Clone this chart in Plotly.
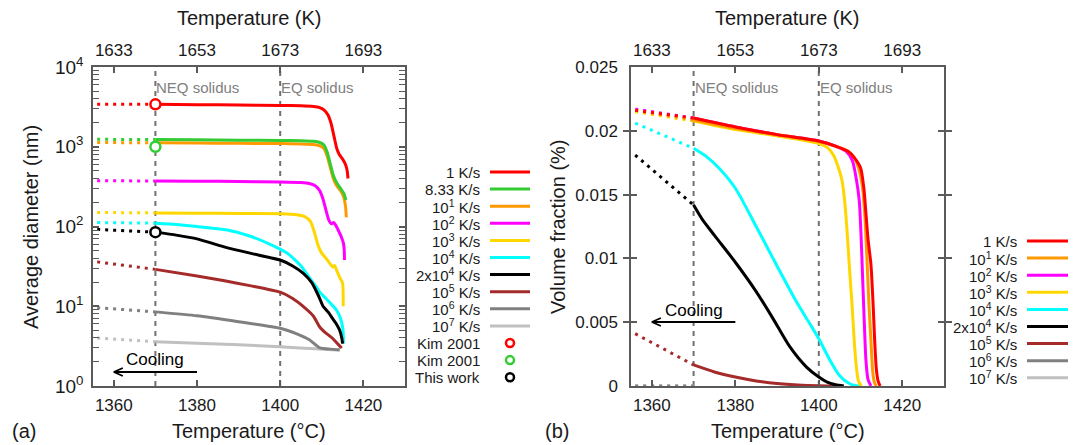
import plotly.graph_objects as go

W, H = 1075, 445
FONT = "Liberation Sans, Arial, sans-serif"
K_OFFSET = 273
X_RANGE = [1355, 1430]
C_TICKS = [1360, 1380, 1400, 1420]
NEQ_SOLIDUS = 1370
EQ_SOLIDUS = 1400
DOT_START = 1356

# ---------------- Panel (a): average diameter (nm) ----------------
a_red_T = [1370, 1380, 1390, 1400, 1405, 1408, 1409.5, 1410.5, 1411.5, 1412.3, 1413, 1413.6, 1414.2, 1415, 1415.7, 1416.1, 1416.3]
a_red_D = [3400, 3370, 3340, 3300, 3270, 3200, 3100, 2900, 2500, 1900, 1300, 950, 800, 700, 600, 500, 400]
a_grn_T = [1370, 1380, 1390, 1400, 1405, 1408, 1409.5, 1410.5, 1411.3, 1412, 1412.7, 1413.5, 1414.5, 1415.3, 1415.8]
a_grn_D = [1230, 1220, 1210, 1200, 1190, 1170, 1130, 1050, 850, 620, 450, 360, 300, 260, 215]
a_org_T = [1370, 1380, 1390, 1400, 1405, 1408, 1409.5, 1410.5, 1411.3, 1412, 1412.7, 1413.5, 1414.5, 1415.3, 1415.7, 1415.9]
a_org_D = [1120, 1115, 1105, 1095, 1085, 1065, 1025, 950, 760, 560, 410, 330, 280, 230, 180, 130]
a_mag_T = [1370, 1380, 1390, 1400, 1405, 1407, 1408.5, 1409.5, 1410.3, 1411, 1411.7, 1412.3, 1412.8, 1413.3, 1413.9, 1414.7, 1415.2, 1415.4, 1415.45]
a_mag_D = [372, 370, 367, 362, 356, 346, 322, 280, 220, 160, 120, 108, 112, 105, 91, 74, 62, 50, 38]
a_yel_T = [1370, 1380, 1390, 1400, 1404, 1406, 1407.3, 1408.2, 1409.1, 1410, 1411, 1412, 1412.7, 1413.1, 1413.6, 1414.3, 1415, 1415.15]
a_yel_D = [148, 147, 146, 144, 140, 132, 115, 85, 58, 46, 40, 34, 31, 32.5, 28, 23, 19.5, 10]
a_cyn_T = [1370, 1375, 1380, 1387, 1393, 1399, 1402, 1405, 1407, 1408.5, 1409.5, 1411, 1412, 1413.5, 1414.5, 1415.1, 1415.2]
a_cyn_D = [110, 106, 100, 91, 75, 55, 45, 32, 23, 18, 15, 12.5, 11, 9, 7, 5, 3.4]
a_blk_T = [1370, 1375, 1380, 1386.3, 1393, 1400, 1403, 1405.5, 1407.5, 1408.8, 1409.5, 1410.3, 1411.5, 1412.6, 1413.5, 1414.3, 1414.8, 1415]
a_blk_D = [85, 78, 70, 56, 46, 38, 32, 26, 20, 15, 12.5, 10, 8.5, 7, 6, 5, 4, 3.4]
a_brn_T = [1370, 1380, 1386.3, 1393, 1400, 1403, 1406, 1408, 1409.5, 1411, 1412.5, 1414, 1414.8]
a_brn_D = [29, 24, 21, 18, 15, 12.5, 9.5, 7.5, 5.5, 4.6, 4, 3.3, 3.0]
a_gry_T = [1370, 1380, 1390, 1400, 1404, 1407, 1409.5, 1412, 1414.3]
a_gry_D = [8.5, 7.6, 6.4, 5.3, 4.5, 3.8, 3.0, 2.9, 2.85]
a_lgy_T = [1370, 1390, 1400, 1409.5, 1414.3]
a_lgy_D = [3.6, 3.3, 3.1, 2.9, 2.8]
# extrapolated (dotted) start values at DOT_START
a_dot_start = [3400, 1240, 1130, 375, 150, 112, 92, 36, 9.6, 4.0]

a_names = ["1 K/s", "8.33 K/s", "10<sup>1</sup> K/s", "10<sup>2</sup> K/s", "10<sup>3</sup> K/s",
           "10<sup>4</sup> K/s", "2x10<sup>4</sup> K/s", "10<sup>5</sup> K/s", "10<sup>6</sup> K/s", "10<sup>7</sup> K/s"]
a_colors = ["#ff0000", "#33cc33", "#ff9900", "#ff00ff", "#ffd700", "#00ffff", "#000000", "#a52a2a", "#808080", "#c0c0c0"]

# experimental / reference points
pt_names = ["Kim 2001", "Kim 2001", "This work"]
pt_T = [1370, 1370, 1370]
pt_D = [3400, 1000, 85]
pt_colors = ["#ff0000", "#33cc33", "#000000"]

Y_TICKS_A = [1, 10, 100, 1000, 10000]
Y_TICKTEXT_A = ["10<sup>0</sup>", "10<sup>1</sup>", "10<sup>2</sup>", "10<sup>3</sup>", "10<sup>4</sup>"]

# ---------------- Panel (b): volume fraction (%) ----------------
b_red_T = [1370, 1380, 1390, 1400, 1404, 1407, 1408.5, 1410, 1410.8, 1411.3, 1411.8, 1412.5, 1413, 1413.4, 1413.8, 1414.2, 1414.7]
b_red_V = [0.0210, 0.0203, 0.0197, 0.0192, 0.0188, 0.0184, 0.0179, 0.0171, 0.0155, 0.0135, 0.0115, 0.0095, 0.0065, 0.0035, 0.0013, 0.0004, 0.0]
b_org_T = [1370, 1380, 1390, 1400, 1404, 1407, 1408.5, 1409.6, 1410.5, 1411.1, 1411.6, 1412, 1412.5, 1412.9, 1413.3, 1413.8]
b_org_V = [0.02085, 0.0202, 0.0197, 0.01915, 0.0188, 0.0184, 0.0179, 0.0170, 0.0155, 0.0130, 0.0095, 0.0065, 0.0035, 0.0012, 0.0003, 0.0]
b_mag_T = [1370, 1380, 1390, 1400, 1404, 1406.5, 1408, 1409, 1409.7, 1410.1, 1410.5, 1410.9, 1411.3, 1411.8, 1412.5]
b_mag_V = [0.0210, 0.0203, 0.0197, 0.0192, 0.0188, 0.0184, 0.0177, 0.0162, 0.0145, 0.0120, 0.0085, 0.0050, 0.0020, 0.0005, 0.0]
b_yel_T = [1370, 1380, 1390, 1400, 1402, 1403.5, 1404.5, 1405.5, 1406.2, 1406.8, 1407.4, 1408, 1408.5, 1409, 1409.5, 1410.2]
b_yel_V = [0.02077, 0.0201, 0.0196, 0.0190, 0.0187, 0.0181, 0.0173, 0.0162, 0.0145, 0.0120, 0.0090, 0.0062, 0.0035, 0.0015, 0.0004, 0.0]
b_cyn_T = [1370, 1373, 1376, 1380, 1385, 1390, 1395, 1398, 1400, 1402.7, 1405, 1407, 1408.5, 1410]
b_cyn_V = [0.01863, 0.0180, 0.0171, 0.0155, 0.0125, 0.0094, 0.0064, 0.0048, 0.0037, 0.0020, 0.0008, 0.00025, 0.00005, 0.0]
b_blk_T = [1370, 1372, 1375, 1380, 1385, 1389, 1393, 1397, 1400, 1402, 1404, 1406]
b_blk_V = [0.01418, 0.0131, 0.0118, 0.0097, 0.0074, 0.0053, 0.0031, 0.0015, 0.0007, 0.0003, 0.0001, 0.0]
b_brn_T = [1370, 1375, 1380, 1385, 1390, 1395, 1400, 1405]
b_brn_V = [0.00165, 0.0011, 0.0007, 0.0004, 0.0002, 0.00008, 0.00002, 0.0]
b_gry_T = [1370]
b_gry_V = [0.0]
b_lgy_T = [1370]
b_lgy_V = [0.0]
b_dot_start = [0.0216, 0.0216, 0.0217, 0.0215, 0.0206, 0.0181, 0.0041, 0.0, 0.0]

b_names = ["1 K/s", "10<sup>1</sup> K/s", "10<sup>2</sup> K/s", "10<sup>3</sup> K/s", "10<sup>4</sup> K/s",
           "2x10<sup>4</sup> K/s", "10<sup>5</sup> K/s", "10<sup>6</sup> K/s", "10<sup>7</sup> K/s"]
b_colors = ["#ff0000", "#ff9900", "#ff00ff", "#ffd700", "#00ffff", "#000000", "#a52a2a", "#808080", "#c0c0c0"]
Y_TICKS_B = [0, 0.005, 0.01, 0.015, 0.02, 0.025]
Y_TICKTEXT_B = ["0", "0.005", "0.01", "0.015", "0.02", "0.025"]

# ---------------- geometry helpers (pixels -> paper) ----------------
def px(x):
    return x / W


def py(y):
    return 1 - y / H


A_DOM = [px(93), px(405)]
B_DOM = [px(631), px(944)]
Y_DOM = [py(386), py(67)]

AXCOL = "#5a5a5a"
LW = 3
DOT = "3px,5px"

fig = go.Figure()

a_series = [(a_red_T, a_red_D), (a_grn_T, a_grn_D), (a_org_T, a_org_D), (a_mag_T, a_mag_D), (a_yel_T, a_yel_D),
            (a_cyn_T, a_cyn_D), (a_blk_T, a_blk_D), (a_brn_T, a_brn_D), (a_gry_T, a_gry_D), (a_lgy_T, a_lgy_D)]
b_series = [(b_red_T, b_red_V), (b_org_T, b_org_V), (b_mag_T, b_mag_V), (b_yel_T, b_yel_V), (b_cyn_T, b_cyn_V),
            (b_blk_T, b_blk_V), (b_brn_T, b_brn_V), (b_gry_T, b_gry_V), (b_lgy_T, b_lgy_V)]


def add_panel(series, dots, names, colors, xa, ya, order, smooth):
    for i in order:
        (T, V), d0, nm, col = series[i], dots[i], names[i], colors[i]
        fig.add_trace(go.Scatter(x=[DOT_START, T[0]], y=[d0, V[0]], mode="lines",
                                 line=dict(color=col, width=LW, dash=DOT), xaxis=xa, yaxis=ya,
                                 showlegend=False, hoverinfo="skip", cliponaxis=False))
        fig.add_trace(go.Scatter(x=T, y=V, mode="lines", name=nm,
                                 line=dict(color=col, width=LW, shape="spline", smoothing=smooth),
                                 xaxis=xa, yaxis=ya, showlegend=False))


add_panel(a_series, a_dot_start, a_names, a_colors, "x", "y", [9, 8, 7, 5, 6, 4, 3, 2, 1, 0], 0.5)
add_panel(b_series, b_dot_start, b_names, b_colors, "x2", "y2", [8, 7, 6, 5, 4, 3, 2, 1, 0], 0.7)

for nm, t, d, col in zip(pt_names, pt_T, pt_D, pt_colors):
    fig.add_trace(go.Scatter(x=[t], y=[d], mode="markers", name=nm, xaxis="x", yaxis="y", showlegend=False,
                             marker=dict(symbol="circle", size=10, color="white", line=dict(color=col, width=2.5))))

# helper traces for top Kelvin axes
k_ticks = [c + K_OFFSET for c in C_TICKS]
fig.add_trace(go.Scatter(x=k_ticks, y=[a_red_D[0]] * len(k_ticks), xaxis="x3", yaxis="y", mode="lines",
                         line=dict(width=0), opacity=0, hoverinfo="skip", showlegend=False))
fig.add_trace(go.Scatter(x=k_ticks, y=[b_red_V[0]] * len(k_ticks), xaxis="x4", yaxis="y2", mode="lines",
                         line=dict(width=0), opacity=0, hoverinfo="skip", showlegend=False))

tickfont = dict(family=FONT, size=17, color="#1a1a1a")
common_x = dict(range=X_RANGE, tickvals=C_TICKS, ticks="inside", ticklen=6, tickwidth=1.5, tickcolor=AXCOL,
                showline=True, linecolor=AXCOL, linewidth=1.5, showgrid=False, zeroline=False,
                tickfont=tickfont, ticklabelstandoff=3, layer="above traces", automargin=False)
k_range = [X_RANGE[0] + K_OFFSET, X_RANGE[1] + K_OFFSET]
top_x = dict(range=k_range, tickvals=k_ticks, side="top", ticks="inside", ticklen=6, tickwidth=1.5,
             tickcolor=AXCOL, showline=True, linecolor=AXCOL, linewidth=1.5, showgrid=False,
             zeroline=False, tickfont=tickfont, ticklabelstandoff=2, automargin=False)

minor_a = [m * 10 ** e for e in range(4) for m in range(2, 10)]

fig.update_layout(
    width=W, height=H, margin=dict(l=0, r=0, t=0, b=0, autoexpand=False),
    paper_bgcolor="white", plot_bgcolor="white", showlegend=False,
    font=dict(family=FONT, color="#1a1a1a"),
    xaxis=dict(domain=A_DOM, anchor="y", **common_x),
    xaxis2=dict(domain=B_DOM, anchor="y2", **common_x),
    xaxis3=dict(overlaying="x", anchor="y", **top_x),
    xaxis4=dict(overlaying="x2", anchor="y2", **top_x),
    yaxis=dict(domain=Y_DOM, anchor="x", type="log", range=[0, 4], tickvals=Y_TICKS_A, ticktext=Y_TICKTEXT_A,
               ticks="inside", ticklen=6, tickwidth=1.5, tickcolor=AXCOL, mirror="allticks",
               showline=True, linecolor=AXCOL, linewidth=1.5, showgrid=False, zeroline=False,
               tickfont=dict(family=FONT, size=19, color="#1a1a1a"), ticklabelstandoff=4, automargin=False,
               minor=dict(tickvals=minor_a, ticks="inside", ticklen=3, tickwidth=1, tickcolor=AXCOL, showgrid=False)),
    yaxis2=dict(domain=Y_DOM, anchor="x2", range=[0, 0.025], tickvals=Y_TICKS_B, ticktext=Y_TICKTEXT_B,
                ticks="inside", ticklen=6, tickwidth=1.5, tickcolor=AXCOL, mirror="allticks",
                showline=True, linecolor=AXCOL, linewidth=1.5, showgrid=False, zeroline=False,
                tickfont=tickfont, ticklabelstandoff=8, automargin=False),
)

shapes = []
annots = []

# solidus lines and labels
for xa, ya in (("x", "y"), ("x2", "y2")):
    for xv, lab in ((NEQ_SOLIDUS, "NEQ solidus"), (EQ_SOLIDUS, "EQ solidus")):
        shapes.append(dict(type="line", xref=xa, yref=f"{ya} domain", x0=xv, x1=xv, y0=0, y1=1,
                           line=dict(color="#707070", width=2, dash="5px,5px"), layer="below"))
        annots.append(dict(xref=xa, yref="paper", x=xv, y=py(88), text=lab, showarrow=False,
                           xanchor="left", yanchor="middle", xshift=-1,
                           font=dict(family=FONT, size=15, color="#808080")))

# cooling arrows
for xa, ay_px, ty_px in (("x", 372, 359), ("x2", 322, 310)):
    shapes.append(dict(type="line", xref=xa, yref="paper", x0=C_TICKS[0], x1=C_TICKS[1], y0=py(ay_px), y1=py(ay_px),
                       line=dict(color="black", width=1.8)))
    for s in (1, -1):
        shapes.append(dict(type="line", xref=xa, yref="paper", xsizemode="pixel", ysizemode="pixel",
                           xanchor=C_TICKS[0], yanchor=py(ay_px), x0=0, x1=9, y0=0, y1=4 * s,
                           line=dict(color="black", width=1.8)))
    annots.append(dict(xref=xa, yref="paper", x=NEQ_SOLIDUS, y=py(ty_px), text="Cooling", showarrow=False,
                       xanchor="center", yanchor="middle", font=dict(family=FONT, size=17, color="black")))

# axis titles and panel labels
title_font = dict(family=FONT, size=20, color="#1a1a1a")
for cx in (249, 787.5):
    annots.append(dict(xref="paper", yref="paper", x=px(cx), y=py(18), text="Temperature (K)", showarrow=False,
                       xanchor="center", yanchor="middle", font=title_font))
    annots.append(dict(xref="paper", yref="paper", x=px(cx), y=py(431), text="Temperature (°C)", showarrow=False,
                       xanchor="center", yanchor="middle", font=title_font))
annots.append(dict(xref="paper", yref="paper", x=px(31), y=py(227), text="Average diameter (nm)", textangle=-90,
                   showarrow=False, xanchor="center", yanchor="middle", font=title_font))
annots.append(dict(xref="paper", yref="paper", x=px(558), y=py(227), text="Volume fraction (%)", textangle=-90,
                   showarrow=False, xanchor="center", yanchor="middle", font=title_font))
annots.append(dict(xref="paper", yref="paper", x=px(24), y=py(431), text="(a)", showarrow=False,
                   xanchor="center", yanchor="middle", font=title_font))
annots.append(dict(xref="paper", yref="paper", x=px(557), y=py(431), text="(b)", showarrow=False,
                   xanchor="center", yanchor="middle", font=title_font))

# custom legends (text left, sample right)
leg_font = dict(family=FONT, size=15, color="#1a1a1a")


def legend(names, colors, kinds, text_right, line_x0, line_x1, y0, dy=17.1):
    for i, (nm, col, kind) in enumerate(zip(names, colors, kinds)):
        yy = y0 + i * dy
        annots.append(dict(xref="paper", yref="paper", x=px(text_right), y=py(yy), text=nm, showarrow=False,
                           xanchor="right", yanchor="middle", font=leg_font))
        if kind == "line":
            shapes.append(dict(type="line", xref="paper", yref="paper", x0=px(line_x0), x1=px(line_x1),
                               y0=py(yy), y1=py(yy), line=dict(color=col, width=LW)))
        else:
            shapes.append(dict(type="circle", xref="paper", yref="paper", xsizemode="pixel", ysizemode="pixel",
                               xanchor=px((line_x0 + line_x1) / 2), yanchor=py(yy), x0=-4, x1=4, y0=-4, y1=4,
                               line=dict(color=col, width=2.5)))


legend(a_names + pt_names, a_colors + pt_colors, ["line"] * len(a_names) + ["marker"] * len(pt_names),
       482, 490, 530, 172)
legend(b_names, b_colors, ["line"] * len(b_names), 1019, 1027, 1068, 241)

fig.update_layout(shapes=shapes, annotations=annots)
fig.write_html("out.html", config={"displayModeBar": False},
               post_script="document.body.style.margin='0';document.body.style.overflow='hidden';")
